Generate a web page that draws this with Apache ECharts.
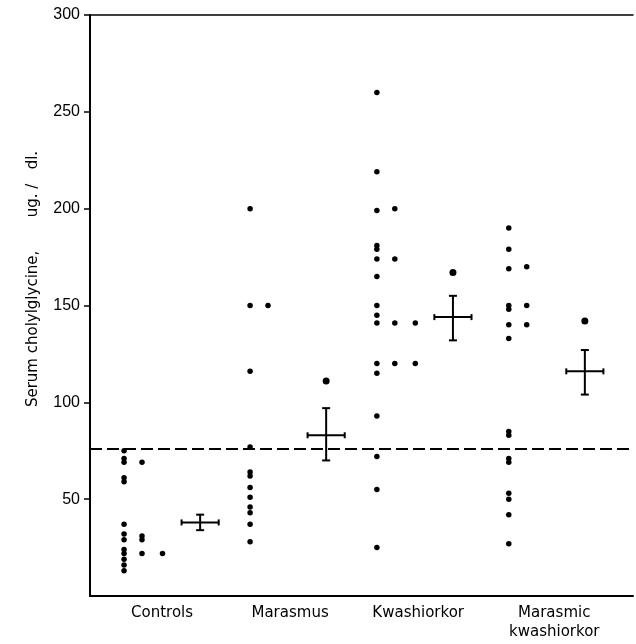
<!DOCTYPE html>
<html>
<head>
<meta charset="utf-8">
<script src="https://cdn.jsdelivr.net/npm/echarts@6/dist/echarts.min.js"></script>
<style>
html,body{margin:0;padding:0;background:#fff;}
#chart{width:636px;height:644px;}
</style>
</head>
<body>
<div id="chart"></div>
<script>
// ---- data ----
const categories = ['Controls', 'Marasmus', 'Kwashiorkor', 'Marasmic\nkwashiorkor'];
const yTicks = [50, 100, 150, 200, 250, 300];
const yAxisTitle = 'Serum cholylglycine,       ug. /   dl.';
const normalLimit = 76;

const controlsCol1 = [75, 71, 69, 61, 59, 37, 32, 29, 24, 22, 19, 16, 13];
const controlsCol2 = [69, 31, 29, 22];
const controlsCol3 = [22];
const marasmusCol1 = [200, 150, 116, 77, 64, 62, 56, 51, 46, 43, 37, 28];
const marasmusCol2 = [150];
const kwashCol1 = [260, 219, 199, 181, 179, 174, 165, 150, 145, 141, 120, 115, 93, 72, 55, 25];
const kwashCol2 = [200, 174, 141, 120];
const kwashCol3 = [141, 120];
const mkCol1 = [190, 179, 169, 150, 148, 140, 133, 85, 83, 71, 69, 53, 50, 42, 27];
const mkCol2 = [170, 150, 140];

const extraDots = [null, 111, 167, 142];
const means = [38, 83, 144, 116];
const meanLow = [34, 70, 132, 104];
const meanHigh = [42, 97, 155, 127];

// ---- layout (x axis in "group" units) ----
const groupStart = [0.266, 1.25, 2.24, 3.27];
const colOffset = [0, 0.14, 0.30];
const meanOffset = 0.594;
const meanHalfWidth = 0.145;
const labelPos = [0.5625, 1.5625, 2.5625, 3.625];
const xMax = 4.24;

const columns = [
  [controlsCol1, controlsCol2, controlsCol3],
  [marasmusCol1, marasmusCol2],
  [kwashCol1, kwashCol2, kwashCol3],
  [mkCol1, mkCol2]
];

const dots = [];
columns.forEach((cols, g) => {
  cols.forEach((vals, c) => {
    vals.forEach(v => dots.push([groupStart[g] + colOffset[c], v]));
  });
});
const bigDots = [];
extraDots.forEach((v, g) => { if (v != null) bigDots.push([groupStart[g] + meanOffset, v]); });
const meanData = means.map((m, g) => [groupStart[g] + meanOffset, m, meanLow[g], meanHigh[g]]);

const font = 'DejaVu Sans';
const chart = echarts.init(document.getElementById('chart'), null, {renderer: 'canvas'});
chart.setOption({
  animation: false,
  backgroundColor: '#fff',
  grid: {left: 90, right: 3, top: 15, bottom: 48},
  xAxis: [{
    type: 'value', min: 0, max: xMax, position: 'bottom',
    splitLine: {show: false},
    axisLine: {show: true, onZero: false, lineStyle: {color: '#000', width: 2}},
    axisTick: {show: false},
    axisLabel: {
      show: true, customValues: labelPos, margin: 8,
      color: '#000', fontFamily: font, fontSize: 15, lineHeight: 19,
      formatter: (v) => { const i = labelPos.findIndex(p => Math.abs(p - v) < 1e-6); return i >= 0 ? categories[i] : ''; }
    }
  }, {
    type: 'value', min: 0, max: xMax, position: 'top',
    splitLine: {show: false},
    axisLine: {show: true, onZero: false, lineStyle: {color: '#000', width: 1.5}},
    axisTick: {show: false}, axisLabel: {show: false}
  }],
  yAxis: {
    type: 'value', min: 0, max: 300,
    splitLine: {show: false},
    axisLine: {show: true, onZero: false, lineStyle: {color: '#000', width: 2}},
    axisTick: {show: true, customValues: yTicks, length: 6, lineStyle: {color: '#000', width: 1.5}},
    axisLabel: {customValues: yTicks, margin: 10, color: '#000', fontFamily: '"Liberation Sans Narrow", "Liberation Sans"', fontSize: 16}
  },
  graphic: [{
    type: 'text', x: 33, y: 279, rotation: Math.PI / 2,
    style: {text: yAxisTitle, fill: '#000', font: '15px "DejaVu Sans"', align: 'center', verticalAlign: 'middle'}
  }],
  series: [{
    type: 'scatter', data: dots, symbol: 'circle', symbolSize: 5.5,
    itemStyle: {color: '#000', opacity: 1},
    markLine: {
      silent: true, symbol: 'none', label: {show: false},
      lineStyle: {color: '#000', width: 1.8, type: [12, 5], opacity: 1},
      data: [{yAxis: normalLimit}]
    }
  }, {
    type: 'scatter', data: bigDots, symbol: 'circle', symbolSize: 7,
    itemStyle: {color: '#000', opacity: 1}
  }, {
    type: 'custom', data: meanData,
    renderItem: (params, api) => {
      const x = api.value(0), m = api.value(1), lo = api.value(2), hi = api.value(3);
      const pc = api.coord([x, m]);
      const pl = api.coord([x, lo]);
      const ph = api.coord([x, hi]);
      const pL = api.coord([x - meanHalfWidth, m]);
      const pR = api.coord([x + meanHalfWidth, m]);
      const st = {stroke: '#000', lineWidth: 2};
      const cap = 4, vcap = 3;
      return {
        type: 'group',
        children: [
          {type: 'line', shape: {x1: pc[0], y1: ph[1], x2: pc[0], y2: pl[1]}, style: st},
          {type: 'line', shape: {x1: pL[0], y1: pc[1], x2: pR[0], y2: pc[1]}, style: st},
          {type: 'line', shape: {x1: pc[0] - cap, y1: ph[1], x2: pc[0] + cap, y2: ph[1]}, style: st},
          {type: 'line', shape: {x1: pc[0] - cap, y1: pl[1], x2: pc[0] + cap, y2: pl[1]}, style: st},
          {type: 'line', shape: {x1: pL[0], y1: pc[1] - vcap, x2: pL[0], y2: pc[1] + vcap}, style: st},
          {type: 'line', shape: {x1: pR[0], y1: pc[1] - vcap, x2: pR[0], y2: pc[1] + vcap}, style: st}
        ]
      };
    }
  }]
});
</script>
</body>
</html>
